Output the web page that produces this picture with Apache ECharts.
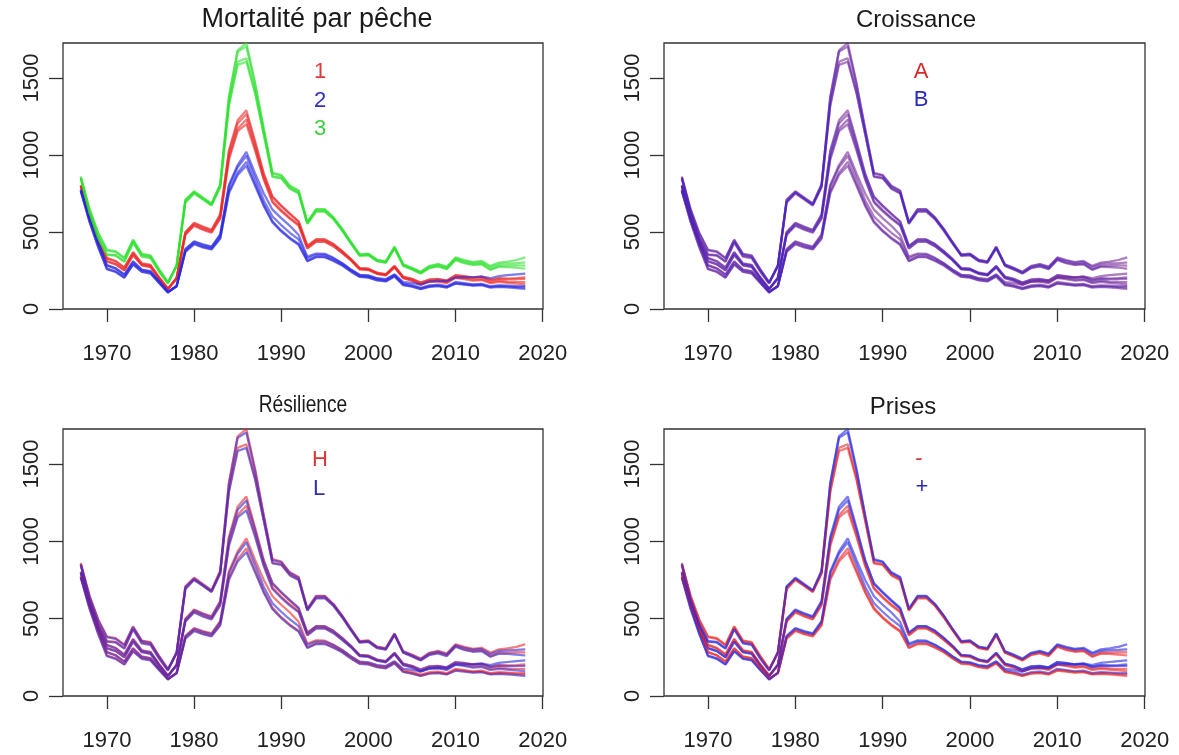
<!DOCTYPE html>
<html>
<head>
<meta charset="utf-8">
<script src="https://cdn.jsdelivr.net/npm/echarts@6/dist/echarts.min.js"></script>
<style>
html,body{margin:0;padding:0;background:#fff;}
#chart{width:1179px;height:755px;}
</style>
</head>
<body>
<div id="chart"></div>
<script>
// ---------------- DATA ----------------
const years = [1967,1968,1969,1970,1971,1972,1973,1974,1975,1976,
  1977,1978,1979,1980,1981,1982,1983,1984,1985,1986,
  1987,1988,1989,1990,1991,1992,1993,1994,1995,1996,
  1997,1998,1999,2000,2001,2002,2003,2004,2005,2006,
  2007,2008,2009,2010,2011,2012,2013,2014,2015,2016,
  2017,2018];

const xTicks = [1970,1980,1990,2000,2010,2020];
const yTicks = [0,500,1000,1500];

// Fishing mortality 1 (F1)
const f1_H_plus = [800,590,430,310,292,252,352,285,275,196,
  128,205,500,560,535,515,615,1030,1225,1290,
  1090,880,725,668,615,565,408,452,452,422,
  376,325,266,262,236,226,280,210,196,172,
  192,195,186,220,214,205,210,190,200,198,
  200,205];
const f1_L_plus = [795,588,428,308,290,250,350,283,272,194,
  126,202,495,555,530,510,608,1015,1205,1265,
  1075,870,730,672,620,570,410,450,450,420,
  374,323,264,260,234,224,278,208,194,170,
  190,193,184,218,211,202,206,186,196,193,
  194,195];
const f1_H_minus = [805,612,452,332,312,270,370,296,286,206,
  134,198,485,545,520,500,592,985,1170,1230,
  1045,848,700,642,592,548,396,440,440,410,
  366,318,260,256,230,220,272,202,187,162,
  181,183,174,207,200,190,194,175,184,178,
  176,175];
const f1_L_minus = [800,608,448,328,308,266,366,293,283,203,
  132,196,480,540,515,495,586,970,1155,1200,
  1030,840,692,635,585,542,392,436,436,406,
  362,315,257,253,228,218,270,200,184,158,
  177,178,168,202,194,184,188,168,176,170,
  165,160];

// Fishing mortality 2 (F2)
const f2_H_plus = [770,570,405,262,244,206,292,244,234,170,
  108,152,390,440,420,405,485,805,935,1020,
  880,750,645,590,540,480,340,360,358,332,
  298,256,220,215,197,190,222,166,156,138,
  154,158,148,176,168,160,164,148,154,152,
  148,148];
const f2_L_plus = [765,565,400,258,240,203,288,240,230,167,
  106,150,385,435,415,400,478,795,920,995,
  850,705,600,545,495,452,330,352,352,328,
  296,256,222,218,200,194,225,175,170,158,
  178,184,180,205,205,206,210,200,214,220,
  225,230];
const f2_H_minus = [775,590,432,285,265,224,310,256,246,180,
  112,148,375,425,405,390,462,765,885,955,
  815,678,570,510,462,422,314,340,340,316,
  286,246,212,207,189,182,214,158,148,132,
  147,152,142,168,162,155,158,143,148,146,
  142,140];
const f2_L_minus = [770,586,428,282,262,221,306,253,243,178,
  111,146,370,420,400,386,456,752,870,930,
  800,668,562,504,456,416,310,336,336,312,
  282,242,208,204,186,179,210,155,145,129,
  144,148,139,164,158,151,154,139,143,140,
  135,130];

// Fishing mortality 3 (F3)
const f3_H_plus = [855,630,465,355,350,310,435,345,335,245,
  168,285,710,765,725,685,810,1380,1680,1727,
  1470,1170,885,870,800,770,565,648,648,595,
  520,435,355,360,320,310,405,290,268,242,
  280,292,275,335,318,305,312,280,302,308,
  318,335];
const f3_L_plus = [845,625,460,352,346,306,430,340,330,240,
  165,282,705,760,720,680,805,1370,1670,1705,
  1455,1160,878,866,795,765,562,645,645,592,
  518,432,352,357,317,307,402,287,264,238,
  276,288,270,330,312,300,305,272,292,295,
  298,302];
const f3_H_minus = [860,650,495,385,375,332,450,358,348,258,
  175,278,695,755,715,676,795,1330,1605,1628,
  1410,1140,862,852,784,754,556,635,636,586,
  512,428,348,352,312,302,396,282,259,232,
  268,280,262,322,302,290,295,258,280,281,
  284,282];
const f3_L_minus = [850,645,490,380,370,328,446,355,344,254,
  172,276,690,750,712,672,790,1320,1585,1605,
  1400,1132,858,848,780,750,552,632,632,582,
  508,425,345,350,310,300,394,280,256,230,
  265,276,258,318,298,286,290,254,274,272,
  268,262];

const fLevels = ['1','2','3'];
const growthLevels = ['A','B'];
const resilLevels = ['H','L'];
const catchLevels = ['-','+'];

const curves = {
  '1': {'H': {'-': f1_H_minus, '+': f1_H_plus}, 'L': {'-': f1_L_minus, '+': f1_L_plus}},
  '2': {'H': {'-': f2_H_minus, '+': f2_H_plus}, 'L': {'-': f2_L_minus, '+': f2_L_plus}},
  '3': {'H': {'-': f3_H_minus, '+': f3_H_plus}, 'L': {'-': f3_L_minus, '+': f3_L_plus}}
};

const panelTitles = ['Mortalité par pêche','Croissance','Résilience','Prises'];

// ---------------- STYLE ----------------
const A = 0.36;
const RED = 'rgba(235,35,35,' + A + ')';
const BLUE = 'rgba(35,35,225,' + A + ')';
const GREEN = 'rgba(45,225,45,' + A + ')';

const grids = [
  {left:63, top:43, width:480, height:266},
  {left:664, top:43, width:481, height:266},
  {left:63, top:429, width:480, height:267},
  {left:664, top:429, width:481, height:267}
];

const colorFns = [
  s => ({'1':RED,'2':BLUE,'3':GREEN})[s.f],
  s => ({'A':RED,'B':BLUE})[s.g],
  s => ({'H':RED,'L':BLUE})[s.r],
  s => ({'-':RED,'+':BLUE})[s.c]
];

const scenarios = [];
fLevels.forEach(f => growthLevels.forEach(g => resilLevels.forEach(r => catchLevels.forEach(c => {
  scenarios.push({f, g, r, c, values: curves[f][r][c]});
}))));

const series = [];
for (let p = 0; p < 4; p++) {
  scenarios.forEach(s => {
    series.push({
      type: 'line',
      xAxisIndex: p, yAxisIndex: p,
      data: years.map((y, i) => [y, s.values[i]]),
      showSymbol: false, symbol: 'none',
      silent: true, animation: false,
      lineStyle: {width: 2.2, color: colorFns[p](s)},
      itemStyle: {color: colorFns[p](s)},
      emphasis: {disabled: true}
    });
  });
}

const FONT = '"Liberation Sans", Arial, sans-serif';
const xAxes = grids.map((g, i) => ({
  type: 'value', gridIndex: i, min: 1964.96, max: 2020.04,
  axisLine: {show: false},
  splitLine: {show: false},
  axisTick: {show: true, length: 13, lineStyle: {color: '#333', width: 1.3}, customValues: xTicks},
  axisLabel: {customValues: xTicks, margin: 34, fontSize: 22, color: '#222', fontFamily: FONT,
    formatter: v => String(Math.round(v))}
}));
const yAxes = grids.map((g, i) => ({
  type: 'value', gridIndex: i, min: 0, max: 1727,
  axisLine: {show: false},
  splitLine: {show: false},
  axisTick: {show: true, length: 14, lineStyle: {color: '#333', width: 1.3}, customValues: yTicks},
  axisLabel: {customValues: yTicks, rotate: 90, margin: 20, fontSize: 22, color: '#222', fontFamily: FONT,
    formatter: v => String(Math.round(v))}
}));

const titlePos = [[317, 20, 27, 1], [916, 20, 24, 1], [303, 405, 24, 0.8], [903, 407, 24, 1]];
const legendTexts = [
  [['1', 320, 72, '#dd3a3a'], ['2', 320, 101, '#3030b8'], ['3', 320, 129, '#3ccf3c']],
  [['A', 921, 72, '#d42a2a'], ['B', 921, 100, '#2a2abf']],
  [['H', 320, 460, '#dd3535'], ['L', 319, 489, '#3030a8']],
  [['-', 919, 459, '#dd3535'], ['+', 922, 487, '#2a2ab8']]
];

const graphic = [];
panelTitles.forEach((t, i) => {
  const [x, y, fs, sx] = titlePos[i];
  graphic.push({type: 'text', x, y, scaleX: sx, silent: true,
    style: {text: t, font: fs + 'px ' + FONT, fill: '#1a1a1a', align: 'center', verticalAlign: 'middle'}});
});
legendTexts.forEach(list => list.forEach(([t, x, y, col]) => {
  graphic.push({type: 'text', x, y, silent: true,
    style: {text: t, font: '22px ' + FONT, fill: col, align: 'center', verticalAlign: 'middle'}});
}));

const chart = echarts.init(document.getElementById('chart'), null, {renderer: 'canvas'});
chart.setOption({
  backgroundColor: '#ffffff',
  animation: false,
  grid: grids.map(g => Object.assign({show: true, borderColor: '#333', borderWidth: 1.3, backgroundColor: 'transparent'}, g)),
  xAxis: xAxes,
  yAxis: yAxes,
  series: series,
  graphic: graphic
});
</script>
</body>
</html>
